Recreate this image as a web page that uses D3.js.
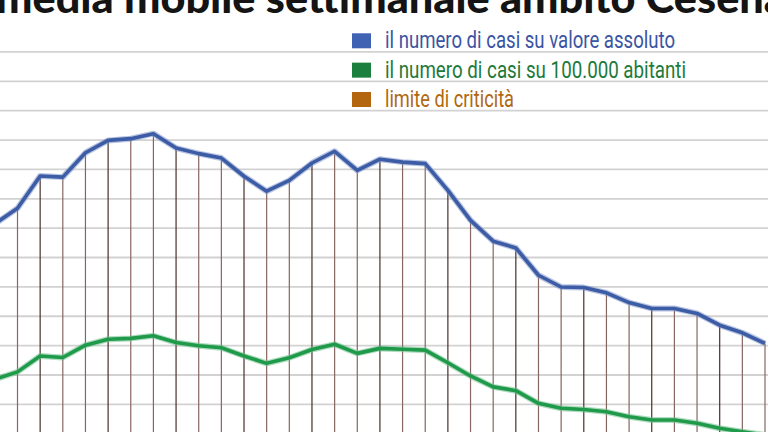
<!DOCTYPE html>
<html>
<head>
<meta charset="utf-8">
<script src="https://cdn.jsdelivr.net/npm/d3@7"></script>
<style>
  html, body { margin: 0; padding: 0; background: #fff; overflow: hidden; }
  svg { display: block; }
</style>
</head>
<body>
<div id="chart"></div>
<script>
// giorni (indice del giorno nella finestra visibile)
var giorni = [0, 1, 2, 3, 4, 5, 6, 7, 8, 9, 10, 11, 12, 13, 14, 15, 16, 17,
  18, 19, 20, 21, 22, 23, 24, 25, 26, 27, 28, 29, 30, 31, 32, 33, 34];

// media mobile casi, valore assoluto
var casiAssoluti = [101.3, 106.6, 117.6, 117.2, 125.5, 129.7, 130.3, 132.0, 127.1,
  125.2, 123.7, 117.5, 112.4, 116.1, 122.0, 126.0, 119.5, 123.3, 122.3, 121.8,
  112.7, 102.5, 95.4, 93.1, 83.8, 79.8, 79.6, 77.8, 74.5, 72.5, 72.5, 70.8,
  66.8, 64.2, 60.6];

// media mobile casi ogni 100.000 abitanti
var casi100k = [48.4, 50.9, 56.3, 55.8, 60.0, 62.0, 62.3, 63.2, 60.9, 59.8, 59.1,
  56.3, 53.8, 55.7, 58.5, 60.3, 57.2, 58.9, 58.6, 58.3, 54.0, 49.5, 45.8, 44.5,
  40.2, 38.5, 38.1, 37.3, 35.6, 34.5, 34.5, 33.4, 31.7, 30.5, 29.4];

var gridTicks = [10, 20, 30, 40, 50, 60, 70, 80, 90, 100, 110, 120, 130, 140, 150, 160];

var titolo = "media mobile settimanale ambito Cesena";
var legendaVoci = ["il numero di casi su valore assoluto",
  "il numero di casi su 100.000 abitanti",
  "limite di criticità"];

var svgWidth = 768;
var svgHeight = 432;

var svg = d3.select("#chart")
  .append("svg")
  .attr("width", svgWidth)
  .attr("height", svgHeight);

var xScale = d3.scalePoint()
  .domain(giorni)
  .range([-5.15, 765]);

var yScale = d3.scaleLinear()
  .domain([0, 160])
  .range([521.4, 51.4]);

// griglia orizzontale
var gridAxis = d3.axisLeft(yScale)
  .tickValues(gridTicks)
  .tickSize(-svgWidth)
  .tickFormat("");

var grid = svg.append("g")
  .call(gridAxis);
grid.select(".domain").remove();
grid.selectAll(".tick line")
  .attr("stroke", "#d2d2d2")
  .attr("stroke-width", 1.8);

// linee verticali fino alla curva assoluta
svg.append("g")
  .selectAll("line")
  .data(giorni)
  .enter()
  .append("line")
  .attr("x1", d => xScale(d))
  .attr("x2", d => xScale(d))
  .attr("y1", (d, i) => yScale(casiAssoluti[i]))
  .attr("y2", svgHeight + 5)
  .attr("stroke", (d, i) => i % 3 === 2 ? "#4a2f2a" : "#866660")
  .attr("stroke-width", 1.2);

var line = d3.line()
  .x((d, i) => xScale(giorni[i]))
  .y(d => yScale(d));

function drawSeries(values, shadow, main) {
  svg.append("path")
    .datum(values)
    .attr("fill", "none")
    .attr("stroke", shadow)
    .attr("stroke-opacity", 0.55)
    .attr("stroke-width", 6)
    .attr("stroke-linejoin", "round")
    .attr("d", line);
  svg.append("path")
    .datum(values)
    .attr("fill", "none")
    .attr("stroke", main)
    .attr("stroke-width", 3.6)
    .attr("stroke-linejoin", "round")
    .attr("d", line);
}

drawSeries(casi100k, "#6fbf8a", "#1f9a4b");
drawSeries(casiAssoluti, "#7d93c8", "#3d5ca6");

// titolo (tagliato in alto)
svg.append("text")
  .attr("x", -4)
  .attr("y", 13)
  .attr("textLength", 790)
  .attr("lengthAdjust", "spacingAndGlyphs")
  .attr("font-family", "Lato, sans-serif")
  .attr("font-weight", 900)
  .attr("font-size", "42px")
  .attr("fill", "#141414")
  .text(titolo);

// legenda
var legendColors = ["#3f62b3", "#1c7f3d", "#b4660f"];
var legendText = ["#3a55a3", "#1d7a3b", "#b0680f"];
var legendWidths = [290, 301, 129];

var legend = svg.append("g");
legendaVoci.forEach(function(v, i) {
  var yTop = 33.3 + i * 29.35;
  legend.append("rect")
    .attr("x", 352)
    .attr("y", yTop)
    .attr("width", 19)
    .attr("height", 15)
    .attr("fill", legendColors[i]);
  legend.append("text")
    .attr("x", 385)
    .attr("y", yTop + 15)
    .attr("textLength", legendWidths[i])
    .attr("lengthAdjust", "spacingAndGlyphs")
    .attr("font-family", "Roboto, sans-serif")
    .attr("font-size", "23px")
    .attr("fill", legendText[i])
    .text(v);
});
</script>
</body>
</html>
